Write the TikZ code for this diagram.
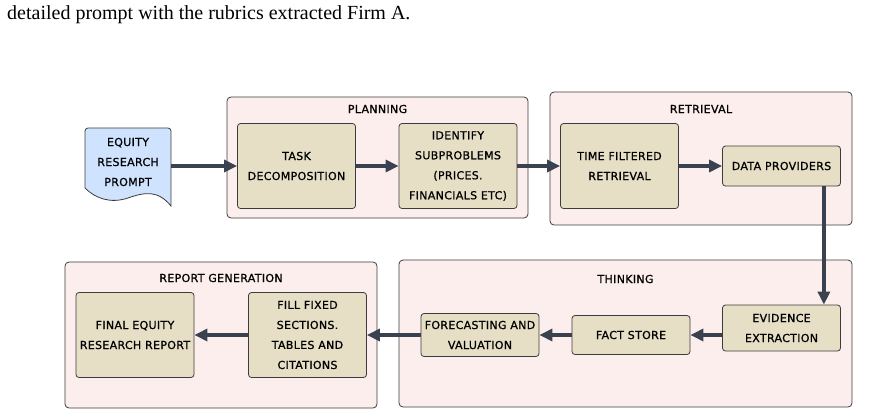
\documentclass[tikz,border=0pt]{standalone}
\usepackage{fontspec}
\setmainfont{Liberation Serif}
\newfontfamily\boxfont[LetterSpace=3,FakeBold=1]{DejaVu Sans}
\usetikzlibrary{arrows.meta,positioning,calc}
\definecolor{groupfill}{RGB}{253,238,238}
\definecolor{boxfill}{RGB}{230,223,198}
\definecolor{docfill}{RGB}{207,227,255}
\definecolor{linegray}{RGB}{60,60,60}
\definecolor{flowcol}{RGB}{59,66,79}
\begin{document}
\begin{tikzpicture}[x=1pt,y=-1pt,
  font=\boxfont\fontsize{11}{20}\selectfont,
  grp/.style={draw=linegray,fill=groupfill,rounded corners=4pt,line width=0.8pt},
  stage/.style={draw=linegray,fill=boxfill,rounded corners=3pt,line width=0.8pt,align=center,minimum width=118pt,inner sep=1pt},
  flow/.style={draw=flowcol,line width=4pt,-{Triangle[length=13pt,width=12pt]}}]
\useasboundingbox (0,0) rectangle (886,416);
\node[anchor=base west,inner sep=0pt,font=\rmfamily\fontsize{20}{22}\selectfont] (caption) at (7,19)
  {detailed prompt with the rubrics extracted Firm A.};
% stage groups
\node[grp,minimum width=301pt,minimum height=121pt] (plan)   at (377.5,157.5) {};
\node[grp,minimum width=302pt,minimum height=133pt] (retr)   at (701,158.5) {};
\node[grp,minimum width=453pt,minimum height=147pt] (think)  at (625.5,333.5) {};
\node[grp,minimum width=312pt,minimum height=146pt] (report) at (221,335) {};
\node (plantitle)   at (377.5,109) {PLANNING};
\node (retrtitle)   at (701,109)   {RETRIEVAL};
\node (thinktitle)  at (625.5,279) {THINKING};
\node (reporttitle) at (221,278)   {REPORT GENERATION};
% input document
\draw[draw=linegray,fill=docfill,line width=0.8pt] (85,188) [rounded corners=3pt] -- (85,128) -- (171,128)
  [sharp corners] -- (171,206) .. controls (158,190) and (145,192) .. (128,198)
  .. controls (110,204) and (95,198) .. (85,188) -- cycle;
\node[align=center,minimum width=86pt,inner sep=0pt] (prompt) at (128,162) {EQUITY\\RESEARCH\\PROMPT};
% steps
\node[stage,minimum height=85pt] (task)  at (296.5,166) {TASK\\DECOMPOSITION};
\node[stage,minimum height=85pt] (ident) at (458,166)   {IDENTIFY\\SUBPROBLEMS\\(PRICES.\\FINANCIALS ETC)};
\node[stage,minimum height=85pt] (timef) at (619.5,166) {TIME FILTERED\\RETRIEVAL};
\node[stage,minimum height=40pt] (data)  at (781.5,166) {DATA PROVIDERS};
\node[stage,minimum height=46pt] (evid)  at (781.5,328) {EVIDENCE\\EXTRACTION};
\node[stage,minimum height=39pt] (fact)  at (631,335)   {FACT STORE};
\node[stage,minimum height=43pt] (fore)  at (480,335)   {FORECASTING AND\\VALUATION};
\node[stage,minimum height=85pt] (fill)  at (307.5,335) {FILL FIXED\\SECTIONS.\\TABLES AND\\CITATIONS};
\node[stage,minimum height=85pt] (final) at (135,335)   {FINAL EQUITY\\RESEARCH REPORT};
% flow
\draw[flow] ([yshift=-4pt]prompt.east) -- (task.west);
\draw[flow] (task) -- (ident);
\draw[flow] (ident) -- (timef);
\draw[flow] (timef) -- (data);
\draw[flow] ([xshift=-17pt]data.south east) -- ([xshift=-17pt]evid.north east);
\draw[flow] (evid.west |- fact.east) -- (fact.east);
\draw[flow] (fact) -- (fore);
\draw[flow] (fore) -- (fill);
\draw[flow] (fill) -- (final);
\end{tikzpicture}
\end{document}
